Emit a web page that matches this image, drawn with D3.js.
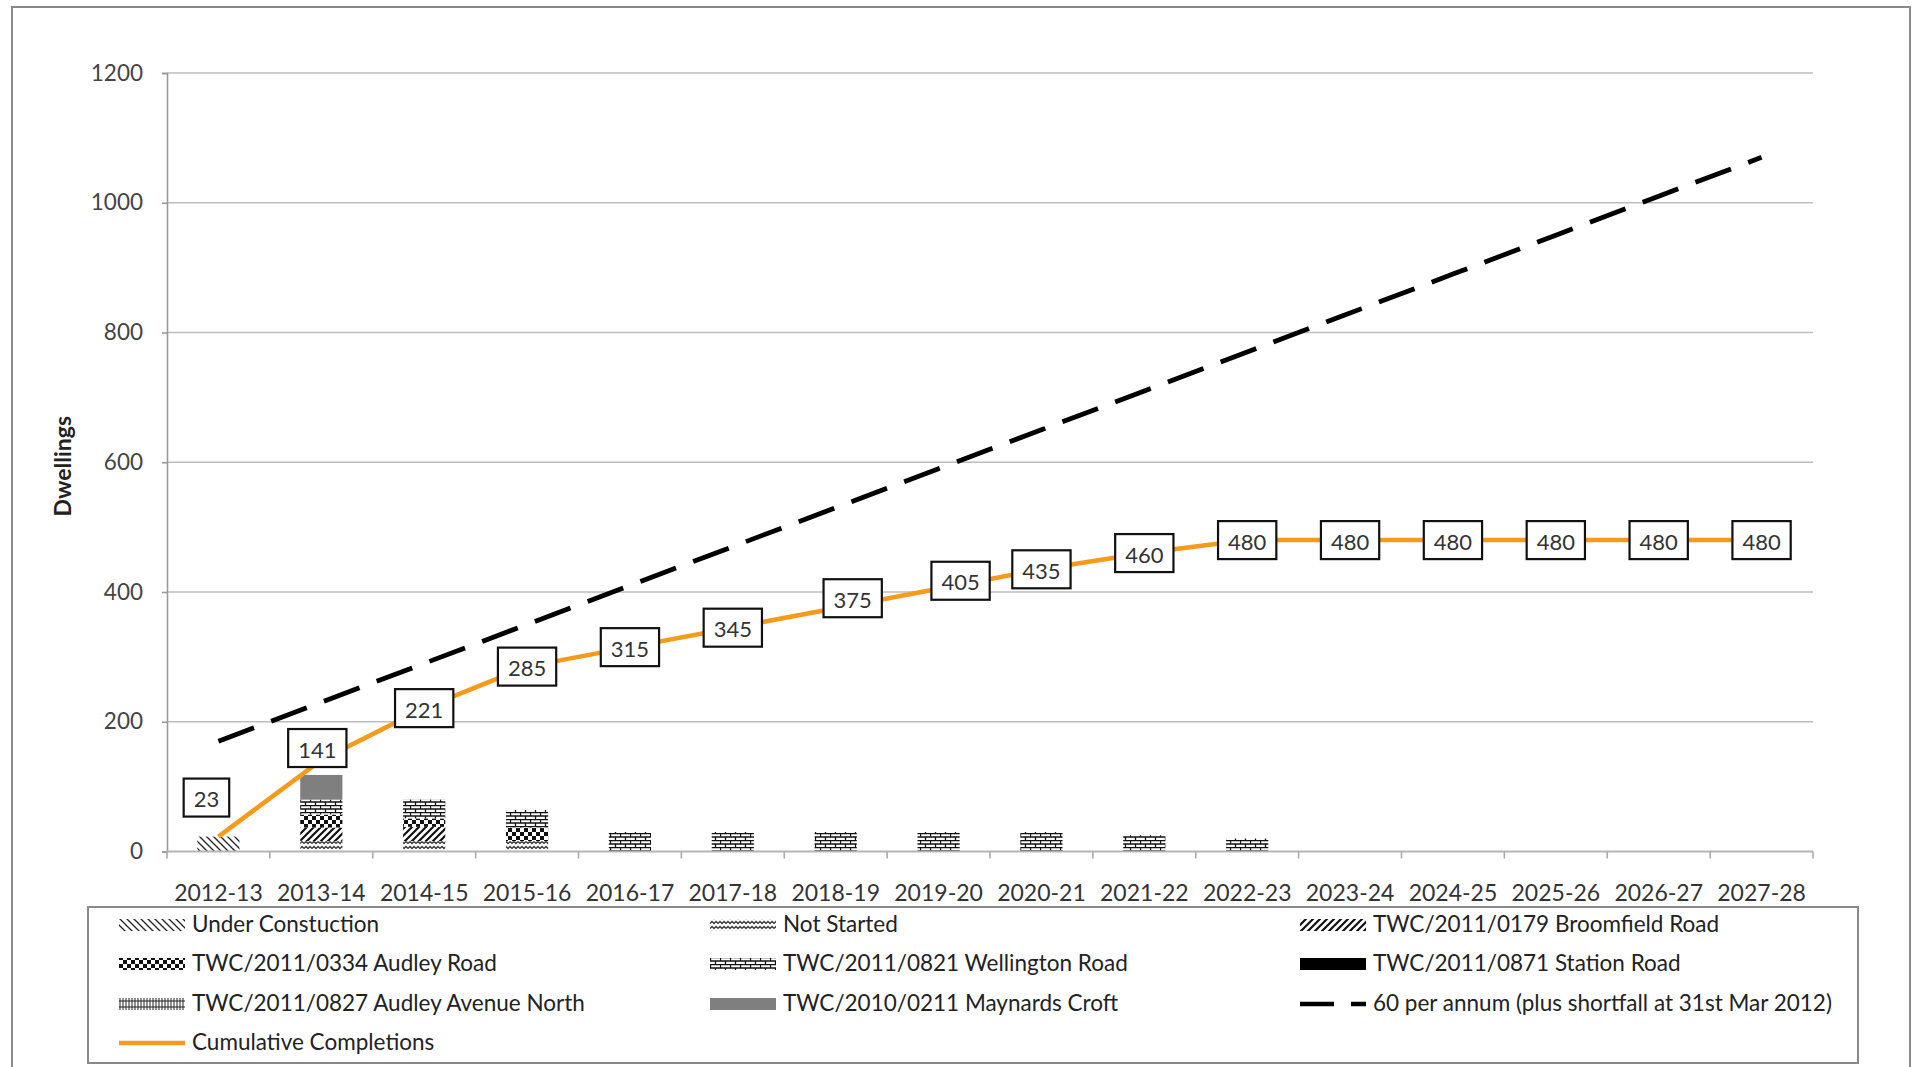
<!DOCTYPE html>
<html>
<head>
<meta charset="utf-8">
<script src="https://cdn.jsdelivr.net/npm/d3@7"></script>
<style>
  html, body { margin: 0; padding: 0; background: #fff; }
  svg { display: block; }
  text { font-family: Lato, "Open Sans", sans-serif; }
</style>
</head>
<body>
<svg id="chart" width="1919" height="1067"></svg>
<script>
// ---------------- DATA ----------------
const categories = ["2012-13","2013-14","2014-15","2015-16","2016-17","2017-18","2018-19","2019-20",
                    "2020-21","2021-22","2022-23","2023-24","2024-25","2025-26","2026-27","2027-28"];
const underConstruction = [23, 0, 0, 0, 0, 0, 0, 0, 0, 0, 0, 0, 0, 0, 0, 0];
const notStarted        = [0, 16, 16, 16, 0, 0, 0, 0, 0, 0, 0, 0, 0, 0, 0, 0];
const broomfieldRoad    = [0, 21, 22, 0, 0, 0, 0, 0, 0, 0, 0, 0, 0, 0, 0, 0];
const audleyRoad        = [0, 20, 13, 21, 0, 0, 0, 0, 0, 0, 0, 0, 0, 0, 0, 0];
const wellingtonRoad    = [0, 23, 29, 27, 30, 30, 30, 30, 30, 25, 20, 0, 0, 0, 0, 0];
const stationRoad       = [0, 0, 0, 0, 0, 0, 0, 0, 0, 0, 0, 0, 0, 0, 0, 0];
const audleyAvenueNorth = [0, 0, 0, 0, 0, 0, 0, 0, 0, 0, 0, 0, 0, 0, 0, 0];
const maynardsCroft     = [0, 38, 0, 0, 0, 0, 0, 0, 0, 0, 0, 0, 0, 0, 0, 0];
const perAnnumTarget    = [170, 230, 290, 350, 410, 470, 530, 590, 650, 710, 770, 830, 890, 950, 1010, 1070];
const cumulativeCompletions = [23, 141, 221, 285, 315, 345, 375, 405, 435, 460, 480, 480, 480, 480, 480, 480];
const yTicks = [0, 200, 400, 600, 800, 1000, 1200];
const seriesNames = ["Under Constuction", "Not Started", "TWC/2011/0179 Broomfield Road",
                     "TWC/2011/0334 Audley Road", "TWC/2011/0821 Wellington  Road", "TWC/2011/0871 Station Road",
                     "TWC/2011/0827 Audley Avenue North", "TWC/2010/0211 Maynards Croft"];
const targetName = "60 per annum (plus shortfall at 31st Mar 2012)";
const cumulativeName = "Cumulative Completions";
const yTitle = "Dwellings";

// ---------------- SETUP ----------------
const svg = d3.select("#chart");
const seriesValues = [underConstruction, notStarted, broomfieldRoad, audleyRoad,
                      wellingtonRoad, stationRoad, audleyAvenueNorth, maynardsCroft];
const keys = seriesNames;
const table = categories.map((c, i) => {
  const row = { cat: c };
  keys.forEach((k, j) => row[k] = seriesValues[j][i]);
  return row;
});

// patterns
const defs = svg.append("defs");
function pat(id, w, h, draw) {
  const p = defs.append("pattern").attr("id", id).attr("patternUnits", "userSpaceOnUse")
    .attr("width", w).attr("height", h);
  p.append("rect").attr("width", w).attr("height", h).attr("fill", "#fff");
  draw(p);
}
pat("pUC", 7, 7, p => p.append("path").attr("d", "M0,0L7,7M-1,6L1,8M6,-1L8,1")
  .attr("stroke", "#222").attr("stroke-width", 1.3));
pat("pNS", 8, 5, p => p.append("path").attr("d", "M0,3.5L2,1.5L4,3.5L6,1.5L8,3.5")
  .attr("stroke", "#333").attr("stroke-width", 1.3).attr("fill", "none"));
pat("pBR", 7, 7, p => p.append("path").attr("d", "M0,7L7,0M-2,2L2,-2M5,9L9,5")
  .attr("stroke", "#111").attr("stroke-width", 2.2));
pat("pAR", 8, 8, p => {
  p.append("rect").attr("x", 0).attr("y", 0).attr("width", 4).attr("height", 4).attr("fill", "#111");
  p.append("rect").attr("x", 4).attr("y", 4).attr("width", 4).attr("height", 4).attr("fill", "#111");
});
pat("pWR", 10, 7, p => p.append("path")
  .attr("d", "M0,0.5H10M0,4H10M0.5,0.5V4M5.5,4V7")
  .attr("stroke", "#111").attr("stroke-width", 1.3).attr("fill", "none"));
pat("pAAN", 3, 6, p => p.append("path").attr("d", "M1,0V6M0,3H3")
  .attr("stroke", "#222").attr("stroke-width", 1));
const fills = ["url(#pUC)", "url(#pNS)", "url(#pBR)", "url(#pAR)", "url(#pWR)", "#000", "url(#pAAN)", "#7f7f7f"];

// outer border
svg.append("rect").attr("x", 12).attr("y", 7).attr("width", 1898).attr("height", 1070)
  .attr("fill", "#fff").attr("stroke", "#8a8a8a").attr("stroke-width", 2);

const plot = { left: 167, right: 1813, top: 73, bottom: 851.5 };
const x = d3.scaleBand().domain(categories).range([plot.left, plot.right]).padding(0);
const y = d3.scaleLinear().domain([0, 1200]).range([plot.bottom, plot.top]);
const cx = c => x(c) + x.bandwidth() / 2;
const barW = x.bandwidth() * 0.41;

// gridlines
svg.append("g").selectAll("line").data(yTicks.filter(t => t > 0)).join("line")
  .attr("x1", plot.left).attr("x2", plot.right)
  .attr("y1", d => y(d)).attr("y2", d => y(d))
  .attr("stroke", "#bdbdbd").attr("stroke-width", 1.6);

// y axis
const yAxis = svg.append("g").attr("transform", `translate(${plot.left},0)`)
  .call(d3.axisLeft(y).tickValues(yTicks).tickSize(5).tickPadding(19).tickFormat(d3.format("d")));
yAxis.select(".domain").attr("stroke", "#999").attr("stroke-width", 1.6);
yAxis.selectAll(".tick line").attr("stroke", "#999").attr("stroke-width", 1.6);
yAxis.selectAll(".tick text").attr("font-size", 22.5).attr("fill", "#444")
  .attr("font-family", "Lato, sans-serif");

// y title
svg.append("text").attr("transform", `translate(65,${(plot.top + plot.bottom) / 2 + 4}) rotate(-90)`)
  .attr("text-anchor", "middle").attr("dominant-baseline", "middle")
  .attr("font-size", 23).attr("font-weight", "bold").attr("fill", "#222").text(yTitle);

// bars
const stacked = d3.stack().keys(keys)(table);
svg.append("g").selectAll("g").data(stacked).join("g")
  .attr("fill", (d, i) => fills[i])
  .selectAll("rect").data(d => d.filter(s => s[1] - s[0] > 0)).join("rect")
  .attr("x", d => cx(d.data.cat) - barW / 2)
  .attr("width", barW)
  .attr("y", d => y(d[1]))
  .attr("height", d => y(d[0]) - y(d[1]));

// x axis
const xAxisG = svg.append("g");
xAxisG.append("line").attr("x1", plot.left).attr("x2", plot.right)
  .attr("y1", y(0)).attr("y2", y(0)).attr("stroke", "#b5b5b5").attr("stroke-width", 2);
const boundaries = categories.map(c => x(c)).concat([plot.right]);
xAxisG.selectAll("line.tk").data(boundaries).join("line").attr("class", "tk")
  .attr("x1", d => d).attr("x2", d => d).attr("y1", y(0)).attr("y2", y(0) + 7)
  .attr("stroke", "#aaa").attr("stroke-width", 1.6);
xAxisG.selectAll("text").data(categories).join("text")
  .attr("x", d => cx(d)).attr("y", 895).attr("text-anchor", "middle").attr("dominant-baseline", "middle")
  .attr("font-size", 23).attr("fill", "#333").text(d => d);

// target dashed line
const line = d3.line().x((d, i) => cx(categories[i])).y(d => y(d));
svg.append("path").datum(perAnnumTarget).attr("d", line)
  .attr("fill", "none").attr("stroke", "#000").attr("stroke-width", 4.8)
  .attr("stroke-dasharray", "38,18.4");

// cumulative line
svg.append("path").datum(cumulativeCompletions).attr("d", line)
  .attr("fill", "none").attr("stroke", "#F59A1B").attr("stroke-width", 4.5);

// data labels (manual nudges as in the original chart)
const labelOffsets = { 0: [-12, -39], 1: [-4, -12], 6: [17, -10], 7: [22, -8] };
const lbl = svg.append("g").selectAll("g").data(cumulativeCompletions).join("g")
  .attr("transform", (d, i) => {
    const o = labelOffsets[i] || [0, 0];
    return `translate(${cx(categories[i]) + o[0]},${y(d) + o[1]})`;
  });
lbl.each(function(d) {
  const g = d3.select(this);
  const t = g.append("text").attr("text-anchor", "middle").attr("dominant-baseline", "central")
    .attr("y", 1).attr("font-size", 22).attr("fill", "#333").text(d);
  const w = t.node().getComputedTextLength() + 20;
  g.insert("rect", "text").attr("x", -w / 2).attr("y", -19).attr("width", w).attr("height", 38)
    .attr("fill", "#fff").attr("stroke", "#111").attr("stroke-width", 2.2);
});

// legend
svg.append("rect").attr("x", 88).attr("y", 907).attr("width", 1770).attr("height", 156)
  .attr("fill", "#fff").attr("stroke", "#8a8a8a").attr("stroke-width", 2);
const legendItems = seriesNames.map((n, i) => ({ name: n, type: "bar", fill: fills[i] }))
  .concat([{ name: targetName, type: "dash" }, { name: cumulativeName, type: "line" }]);
const colX = [119, 710, 1300];
const rowY = [925, 964, 1004, 1043];
const li = svg.append("g").selectAll("g").data(legendItems).join("g")
  .attr("transform", (d, i) => `translate(${colX[i % 3]},${rowY[Math.floor(i / 3)]})`);
li.each(function(d) {
  const g = d3.select(this);
  if (d.type === "bar") {
    g.append("rect").attr("x", 0).attr("y", -6).attr("width", 66).attr("height", 12).attr("fill", d.fill);
  } else if (d.type === "dash") {
    g.append("line").attr("x1", 0).attr("x2", 66).attr("y1", 0).attr("y2", 0)
      .attr("stroke", "#000").attr("stroke-width", 4.5).attr("stroke-dasharray", "34,17");
  } else {
    g.append("line").attr("x1", 0).attr("x2", 66).attr("y1", 0).attr("y2", 0)
      .attr("stroke", "#F59A1B").attr("stroke-width", 4.5);
  }
  g.append("text").attr("x", 73).attr("y", 1).attr("dominant-baseline", "middle")
    .attr("font-size", 22.5).attr("fill", "#222").text(d.name);
});
</script>
</body>
</html>
